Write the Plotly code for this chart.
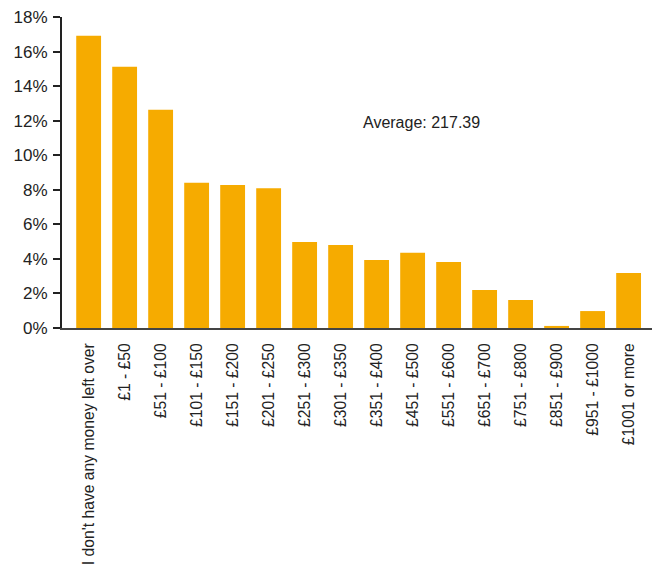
import plotly.graph_objects as go

# Monthly money left over after essentials, share of respondents (%)
categories = [
    "I don't have any money left over", "£1 - £50", "£51 - £100", "£101 - £150",
    "£151 - £200", "£201 - £250", "£251 - £300", "£301 - £350", "£351 - £400",
    "£451 - £500", "£551 - £600", "£651 - £700", "£751 - £800", "£851 - £900",
    "£951 - £1000", "£1001 or more",
]
shares = [16.92, 15.12, 12.63, 8.40, 8.28, 8.09, 4.98, 4.81, 3.94,
          4.35, 3.82, 2.20, 1.62, 0.12, 0.98, 3.19]
y_ticks = [0, 2, 4, 6, 8, 10, 12, 14, 16, 18]
y_tick_labels = [f"{v}%" for v in y_ticks]
average_label = "Average: 217.39"

fig = go.Figure(
    go.Bar(
        x=list(range(len(categories))),
        y=shares,
        marker=dict(color="#F6AB00", line=dict(width=0)),
        width=0.69,
    )
)

fig.add_annotation(
    x=9.26, y=11.9, xref="x", yref="y",
    text=average_label, showarrow=False,
    font=dict(size=16, color="#222222"),
)

fig.update_layout(
    width=657, height=566,
    margin=dict(l=62, r=5, t=17, b=238),
    paper_bgcolor="white", plot_bgcolor="white",
    font=dict(family="Liberation Sans, Arial, sans-serif", color="#222222"),
    showlegend=False,
)
fig.update_xaxes(
    range=[-0.74, 15.65],
    tickmode="array",
    tickvals=list(range(len(categories))),
    ticktext=categories,
    tickangle=-90,
    tickfont=dict(size=15.7),
    ticks="",
    ticklabelstandoff=7,
    automargin=False,
    showline=True, linecolor="#444444", linewidth=2,
    showgrid=False, zeroline=False,
)
fig.update_yaxes(
    range=[0, 18],
    tickmode="array",
    tickvals=y_ticks,
    ticktext=y_tick_labels,
    tickfont=dict(size=17),
    ticks="outside", ticklen=7, tickwidth=1.5, tickcolor="#222222",
    ticklabelstandoff=2,
    automargin=False,
    showline=True, linecolor="#222222", linewidth=2,
    showgrid=False, zeroline=False,
)

fig.write_html("out.html")
